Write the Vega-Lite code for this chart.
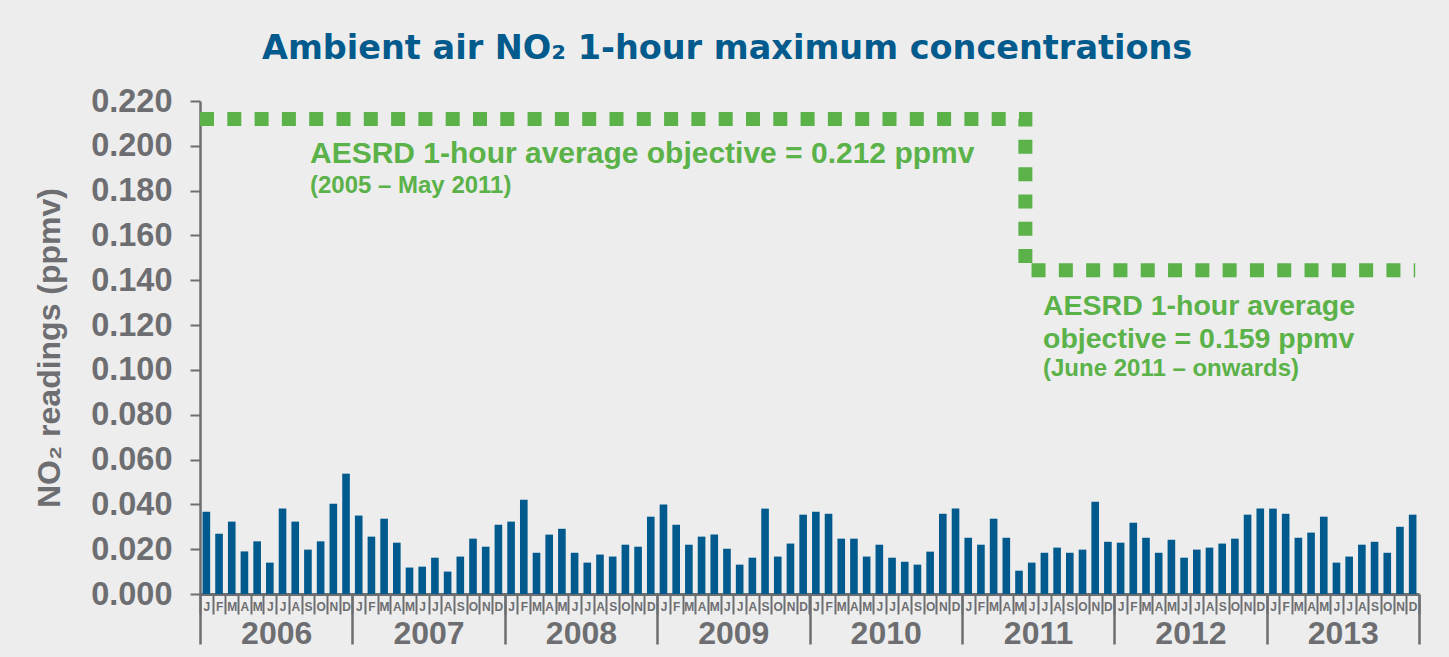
{
  "$schema": "https://vega.github.io/schema/vega-lite/v6.json",
  "width": 1219,
  "height": 493,
  "autosize": {"type": "none"},
  "padding": {"left": 200, "top": 101, "right": 30, "bottom": 63},
  "background": "#ededed",
  "view": {"stroke": null},
  "title": {
    "text": "Ambient air NO₂ 1-hour maximum concentrations",
    "font": "DejaVu Sans",
    "fontSize": 33.5,
    "fontWeight": "bold",
    "color": "#035a8c",
    "anchor": "start",
    "frame": "group",
    "dx": 62,
    "offset": 19
  },
  "datasets": {
    "monthly": [
      {"month": "2006-01", "no2": 0.0367}, {"month": "2006-02", "no2": 0.0269}, {"month": "2006-03", "no2": 0.0323}, {"month": "2006-04", "no2": 0.0190}, {"month": "2006-05", "no2": 0.0235}, {"month": "2006-06", "no2": 0.0140}, {"month": "2006-07", "no2": 0.0381}, {"month": "2006-08", "no2": 0.0323}, {"month": "2006-09", "no2": 0.0198}, {"month": "2006-10", "no2": 0.0235}, {"month": "2006-11", "no2": 0.0403}, {"month": "2006-12", "no2": 0.0537},
      {"month": "2007-01", "no2": 0.0350}, {"month": "2007-02", "no2": 0.0256}, {"month": "2007-03", "no2": 0.0336}, {"month": "2007-04", "no2": 0.0229}, {"month": "2007-05", "no2": 0.0118}, {"month": "2007-06", "no2": 0.0122}, {"month": "2007-07", "no2": 0.0162}, {"month": "2007-08", "no2": 0.0100}, {"month": "2007-09", "no2": 0.0167}, {"month": "2007-10", "no2": 0.0247}, {"month": "2007-11", "no2": 0.0211}, {"month": "2007-12", "no2": 0.0309},
      {"month": "2008-01", "no2": 0.0323}, {"month": "2008-02", "no2": 0.0421}, {"month": "2008-03", "no2": 0.0184}, {"month": "2008-04", "no2": 0.0265}, {"month": "2008-05", "no2": 0.0291}, {"month": "2008-06", "no2": 0.0184}, {"month": "2008-07", "no2": 0.0140}, {"month": "2008-08", "no2": 0.0176}, {"month": "2008-09", "no2": 0.0167}, {"month": "2008-10", "no2": 0.0220}, {"month": "2008-11", "no2": 0.0211}, {"month": "2008-12", "no2": 0.0345},
      {"month": "2009-01", "no2": 0.0399}, {"month": "2009-02", "no2": 0.0309}, {"month": "2009-03", "no2": 0.0220}, {"month": "2009-04", "no2": 0.0256}, {"month": "2009-05", "no2": 0.0265}, {"month": "2009-06", "no2": 0.0202}, {"month": "2009-07", "no2": 0.0131}, {"month": "2009-08", "no2": 0.0162}, {"month": "2009-09", "no2": 0.0381}, {"month": "2009-10", "no2": 0.0167}, {"month": "2009-11", "no2": 0.0225}, {"month": "2009-12", "no2": 0.0354},
      {"month": "2010-01", "no2": 0.0367}, {"month": "2010-02", "no2": 0.0358}, {"month": "2010-03", "no2": 0.0247}, {"month": "2010-04", "no2": 0.0247}, {"month": "2010-05", "no2": 0.0167}, {"month": "2010-06", "no2": 0.0220}, {"month": "2010-07", "no2": 0.0162}, {"month": "2010-08", "no2": 0.0144}, {"month": "2010-09", "no2": 0.0131}, {"month": "2010-10", "no2": 0.0189}, {"month": "2010-11", "no2": 0.0358}, {"month": "2010-12", "no2": 0.0381},
      {"month": "2011-01", "no2": 0.0251}, {"month": "2011-02", "no2": 0.0220}, {"month": "2011-03", "no2": 0.0336}, {"month": "2011-04", "no2": 0.0251}, {"month": "2011-05", "no2": 0.0104}, {"month": "2011-06", "no2": 0.0140}, {"month": "2011-07", "no2": 0.0184}, {"month": "2011-08", "no2": 0.0207}, {"month": "2011-09", "no2": 0.0184}, {"month": "2011-10", "no2": 0.0198}, {"month": "2011-11", "no2": 0.0412}, {"month": "2011-12", "no2": 0.0233},
      {"month": "2012-01", "no2": 0.0229}, {"month": "2012-02", "no2": 0.0318}, {"month": "2012-03", "no2": 0.0251}, {"month": "2012-04", "no2": 0.0184}, {"month": "2012-05", "no2": 0.0242}, {"month": "2012-06", "no2": 0.0162}, {"month": "2012-07", "no2": 0.0198}, {"month": "2012-08", "no2": 0.0207}, {"month": "2012-09", "no2": 0.0225}, {"month": "2012-10", "no2": 0.0247}, {"month": "2012-11", "no2": 0.0354}, {"month": "2012-12", "no2": 0.0381},
      {"month": "2013-01", "no2": 0.0381}, {"month": "2013-02", "no2": 0.0358}, {"month": "2013-03", "no2": 0.0251}, {"month": "2013-04", "no2": 0.0274}, {"month": "2013-05", "no2": 0.0345}, {"month": "2013-06", "no2": 0.0140}, {"month": "2013-07", "no2": 0.0167}, {"month": "2013-08", "no2": 0.0220}, {"month": "2013-09", "no2": 0.0233}, {"month": "2013-10", "no2": 0.0184}, {"month": "2013-11", "no2": 0.0300}, {"month": "2013-12", "no2": 0.0354}
    ],
    "years": [
      {"year": "2006"}, {"year": "2007"}, {"year": "2008"}, {"year": "2009"},
      {"year": "2010"}, {"year": "2011"}, {"year": "2012"}, {"year": "2013"}
    ],
    "objective": [
      {"t": 0, "v": 0.212},
      {"t": 65, "v": 0.1445},
      {"t": 95.7, "v": 0.1445}
    ],
    "notesBigA": [
      {"t": 8.66, "v": 0.1923, "label": "AESRD 1-hour average objective = 0.212 ppmv"}
    ],
    "notesBigB": [
      {"t": 66.39, "v": 0.1245, "label": "AESRD 1-hour average"},
      {"t": 66.39, "v": 0.1100, "label": "objective = 0.159 ppmv"}
    ],
    "notesSmall": [
      {"t": 8.66, "v": 0.1789, "label": "(2005 – May 2011)"},
      {"t": 66.39, "v": 0.0975, "label": "(June 2011 – onwards)"}
    ]
  },
  "layer": [
    {
      "data": {"name": "monthly"},
      "mark": {"type": "bar", "color": "#015a8d", "width": {"band": 0.6}},
      "encoding": {
        "x": {
          "field": "month",
          "type": "ordinal",
          "scale": {"paddingInner": 0, "paddingOuter": 0},
          "axis": {
            "title": null,
            "orient": "bottom",
            "labelExpr": "['J','F','M','A','M','J','J','A','S','O','N','D'][toNumber(substring(datum.value, 5, 7)) - 1]",
            "tickBand": "extent",
            "tickSize": 20,
            "tickWidth": 2,
            "tickColor": "#6d6e71",
            "domainColor": "#6d6e71",
            "domainWidth": 3,
            "labelAngle": 0,
            "labelFont": "Liberation Sans",
            "labelFontWeight": "bold",
            "labelFontSize": 12,
            "labelColor": "#6d6e71",
            "labelBaseline": "alphabetic",
            "labelPadding": -4,
            "labelOverlap": false
          }
        },
        "y": {
          "field": "no2",
          "type": "quantitative",
          "title": "NO₂ readings (ppmv)",
          "scale": {"domain": [0, 0.22], "nice": false},
          "axis": {
            "values": [0, 0.02, 0.04, 0.06, 0.08, 0.1, 0.12, 0.14, 0.16, 0.18, 0.2, 0.22],
            "format": ".3f",
            "grid": false,
            "title": "NO₂ readings (ppmv)",
            "titleFont": "Liberation Sans",
            "titleFontSize": 32,
            "titleFontWeight": "bold",
            "titleColor": "#6d6e71",
            "titlePadding": 24,
            "labelFont": "Liberation Sans",
            "labelFontSize": 32.5,
            "labelFontWeight": "bold",
            "labelColor": "#6d6e71",
            "labelPadding": 18,
            "tickSize": 10,
            "tickWidth": 2,
            "tickColor": "#6d6e71",
            "domainColor": "#6d6e71",
            "domainWidth": 2.5
          }
        }
      }
    },
    {
      "data": {"name": "years"},
      "mark": {"type": "point", "opacity": 0},
      "encoding": {
        "x": {
          "field": "year",
          "type": "ordinal",
          "scale": {"paddingInner": 0, "paddingOuter": 0},
          "axis": {
            "title": null,
            "orient": "bottom",
            "domain": false,
            "tickBand": "extent",
            "tickSize": 50,
            "tickWidth": 2.5,
            "tickColor": "#6d6e71",
            "labelAngle": 0,
            "labelFont": "Liberation Sans",
            "labelFontWeight": "bold",
            "labelFontSize": 32,
            "labelColor": "#6d6e71",
            "labelBaseline": "alphabetic",
            "labelPadding": -1
          }
        }
      }
    },
    {
      "data": {"name": "objective"},
      "mark": {"type": "line", "interpolate": "step-after", "color": "#5ab249", "strokeWidth": 14, "strokeDash": [14, 13.3], "strokeCap": "butt"},
      "encoding": {
        "x": {"field": "t", "type": "quantitative", "scale": {"domain": [0, 96], "nice": false, "zero": false}, "axis": null},
        "y": {"field": "v", "type": "quantitative", "title": "NO₂ readings (ppmv)"}
      }
    },
    {
      "data": {"name": "notesBigA"},
      "mark": {"type": "text", "align": "left", "baseline": "alphabetic", "font": "Liberation Sans", "fontWeight": "bold", "fontSize": 30, "color": "#5ab249"},
      "encoding": {
        "x": {"field": "t", "type": "quantitative", "scale": {"domain": [0, 96], "nice": false, "zero": false}, "axis": null},
        "y": {"field": "v", "type": "quantitative", "title": "NO₂ readings (ppmv)"},
        "text": {"field": "label"}
      }
    },
    {
      "data": {"name": "notesBigB"},
      "mark": {"type": "text", "align": "left", "baseline": "alphabetic", "font": "Liberation Sans", "fontWeight": "bold", "fontSize": 28.5, "color": "#5ab249"},
      "encoding": {
        "x": {"field": "t", "type": "quantitative", "scale": {"domain": [0, 96], "nice": false, "zero": false}, "axis": null},
        "y": {"field": "v", "type": "quantitative", "title": "NO₂ readings (ppmv)"},
        "text": {"field": "label"}
      }
    },
    {
      "data": {"name": "notesSmall"},
      "mark": {"type": "text", "align": "left", "baseline": "alphabetic", "font": "Liberation Sans", "fontWeight": "bold", "fontSize": 24, "color": "#5ab249"},
      "encoding": {
        "x": {"field": "t", "type": "quantitative", "scale": {"domain": [0, 96], "nice": false, "zero": false}, "axis": null},
        "y": {"field": "v", "type": "quantitative", "title": "NO₂ readings (ppmv)"},
        "text": {"field": "label"}
      }
    }
  ],
  "resolve": {"scale": {"x": "independent"}, "axis": {"x": "independent"}}
}
